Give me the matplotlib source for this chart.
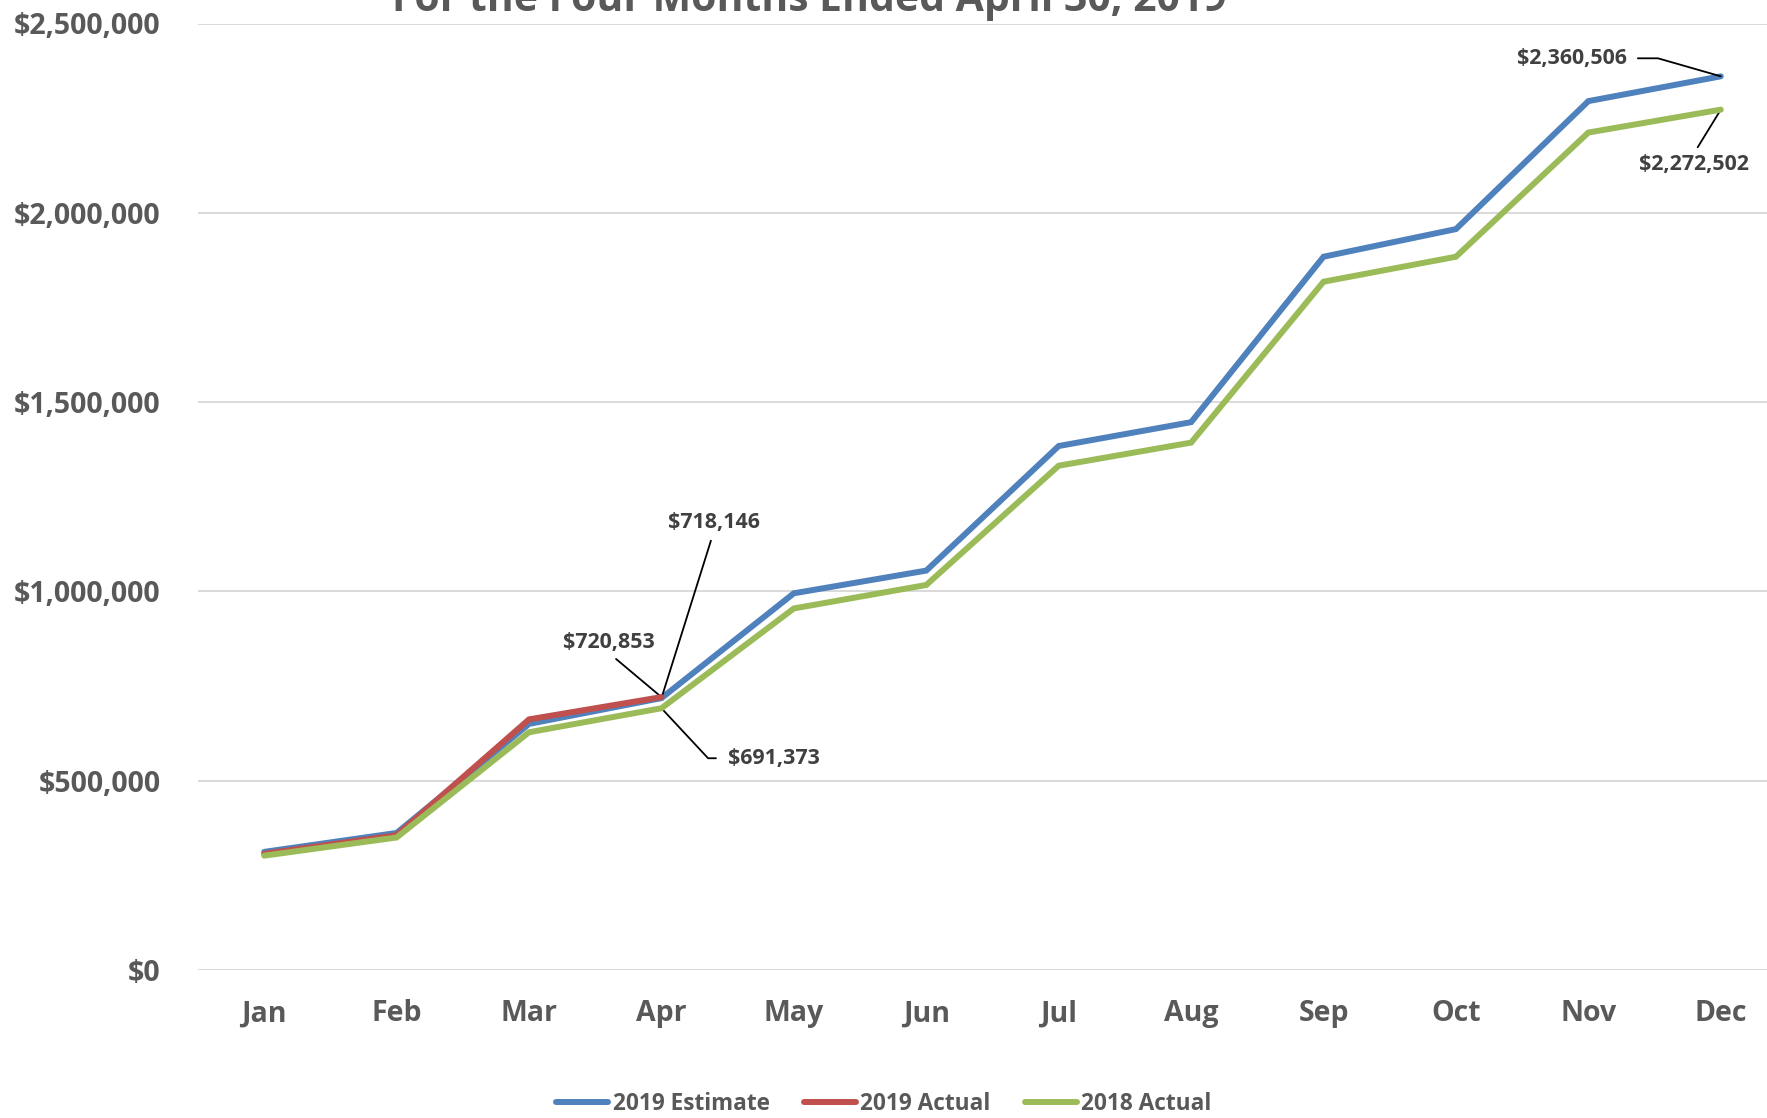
import matplotlib
matplotlib.use("Agg")
import matplotlib.pyplot as plt
from matplotlib.ticker import FuncFormatter, MultipleLocator

months = ["Jan", "Feb", "Mar", "Apr", "May", "Jun", "Jul", "Aug", "Sep", "Oct", "Nov", "Dec"]
est_2019 = [312000, 362000, 650000, 718146, 995000, 1055000, 1384000, 1447000, 1884000, 1957000, 2295000, 2360506]
act_2019 = [307000, 356000, 662000, 720853]
act_2018 = [302000, 350000, 628000, 691373, 955000, 1017000, 1332000, 1393000, 1818000, 1884000, 2212000, 2272502]

series_names = ["2019 Estimate", "2019 Actual", "2018 Actual"]
colors = ["#4F81BD", "#C0504D", "#9BBB59"]
title_text = "For the Four Months Ended April 30, 2019"

plt.rcParams['font.family'] = ['Open Sans', 'DejaVu Sans']
plt.rcParams['font.weight'] = 'bold'

W, H = 1767, 1118
fig = plt.figure(figsize=(W / 100, H / 100), dpi=100)
left_px, right_px, bottom_px, top_px = 198, 1787, 970, 23.5
ax = fig.add_axes([left_px / W, 1 - bottom_px / H, (right_px - left_px) / W, (bottom_px - top_px) / H])

x = list(range(len(months)))
lw = 4.3
ax.plot(x, est_2019, color=colors[0], lw=lw, solid_capstyle='round', solid_joinstyle='miter', label=series_names[0], zorder=3)
ax.plot(x[:len(act_2019)], act_2019, color=colors[1], lw=lw, solid_capstyle='round', solid_joinstyle='miter', label=series_names[1], zorder=4)
ax.plot(x, act_2018, color=colors[2], lw=lw, solid_capstyle='round', solid_joinstyle='miter', label=series_names[2], zorder=5)

ax.set_xlim(-0.5, 11.5)
ax.set_ylim(0, 2500000)
ax.set_xticks(x)
ax.set_xticklabels(months)
ax.yaxis.set_major_locator(MultipleLocator(500000))
ax.yaxis.set_major_formatter(FuncFormatter(lambda v, p: f"${v:,.0f}"))
ax.tick_params(axis='both', length=0, labelsize=20.5, labelcolor='#595959')
ax.tick_params(axis='y', pad=27)
ax.tick_params(axis='x', pad=21)
for lab in ax.get_xticklabels() + ax.get_yticklabels():
    lab.set_fontweight('bold')
for s in ax.spines.values():
    s.set_visible(False)
ax.yaxis.grid(True, color='#D9D9D9', lw=1.4, zorder=0)
ax.set_axisbelow(True)

fig.text(809 / W, 1 - 11 / H, title_text, ha='center', va='baseline', fontsize=29.4,
         fontweight='bold', color='#595959')

ann_kw = dict(fontsize=15.4, fontweight='bold', color='#404040', textcoords='offset pixels')
line_kw = dict(arrowstyle='-', color='black', lw=1.3, shrinkB=0)

ax.annotate(f"${act_2019[3]:,}", xy=(3, act_2019[3]), xytext=(-53, 55), ha='center', va='center',
            arrowprops=dict(**line_kw, shrinkA=4, relpos=(0.5, 0)), **ann_kw)
ax.annotate(f"${est_2019[3]:,}", xy=(3, est_2019[3]), xytext=(52, 176), ha='center', va='center',
            arrowprops=dict(**line_kw, shrinkA=4, relpos=(0.5, 0)), **ann_kw)
ax.annotate(f"${act_2018[3]:,}", xy=(3, act_2018[3]), xytext=(67, -50), ha='left', va='center',
            arrowprops=dict(**line_kw, shrinkA=7, relpos=(0, 0.5),
                            connectionstyle='angle,angleA=0,angleB=133,rad=0'), **ann_kw)
ax.annotate(f"${est_2019[11]:,}", xy=(11, est_2019[11]), xytext=(-94, 18), ha='right', va='center',
            arrowprops=dict(**line_kw, shrinkA=6, relpos=(1, 0.5),
                            connectionstyle='angle,angleA=0,angleB=164,rad=0'), **ann_kw)
ax.annotate(f"${act_2018[11]:,}", xy=(11, act_2018[11]), xytext=(-27, -44), ha='center', va='top',
            arrowprops=dict(**line_kw, shrinkA=3, relpos=(0.5, 1)), **ann_kw)

handles, labels = ax.get_legend_handles_labels()
leg = fig.legend(handles, labels, loc='center', bbox_to_anchor=(884 / W, 1 - 1104 / H), ncol=3,
                 frameon=False, fontsize=16.3, handlelength=2.3, handletextpad=0.2, columnspacing=1.5,
                 borderaxespad=0, borderpad=0)
for t in leg.get_texts():
    t.set_color('#595959')
    t.set_fontweight('bold')

fig.savefig("out.png", dpi=100)
